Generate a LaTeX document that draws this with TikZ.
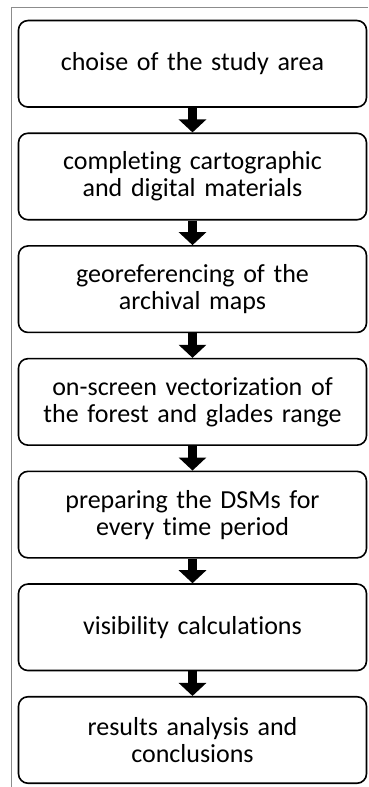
\documentclass[tikz,border=0pt]{standalone}
\usepackage{fontspec}
\setmainfont{Carlito}[Ligatures=NoCommon]
\usetikzlibrary{matrix,arrows.meta}
\definecolor{framegray}{HTML}{8C8C8C}
\tikzset{
  stage/.style={draw, line width=1.6pt, rounded corners=9.5pt,
    minimum width=348pt, minimum height=86.5pt, text width=344pt,
    align=center, inner sep=2pt, font=\fontsize{26}{27}\selectfont},
  flowarrow/.style={draw, line width=9pt,
    -{Triangle[width=27pt,length=13pt]}}
}

\begin{document}
\begin{tikzpicture}[x=1pt, y=-1pt]
			\useasboundingbox (0,0) rectangle (368,787);
			\draw[framegray, line width=1pt] (368,7.5) -- (11.5,7.5) -- (11.5,787);
			\matrix (flow) at (192.5,16.2) [anchor=north, row sep=24.6pt]
			{
				\node[stage] (choice) {choise of the study area}; \\
				\node[stage] (materials) {completing cartographic\\and digital materials}; \\
				\node[stage] (georef) {georeferencing of the\\archival maps}; \\
				\node[stage] (vector) {on-screen vectorization of\\the forest and glades range}; \\
				\node[stage] (dsm) {preparing the DSMs for\\every time period}; \\
				\node[stage] (visib) {visibility calculations}; \\
				\node[stage] (results) {results analysis and\\conclusions}; \\
			};
			\path
			(choice) edge[flowarrow] (materials)
			(materials) edge[flowarrow] (georef)
			(georef) edge[flowarrow] (vector)
			(vector) edge[flowarrow] (dsm)
			(dsm) edge[flowarrow] (visib)
			(visib) edge[flowarrow] (results);
		\end{tikzpicture}
\end{document}
